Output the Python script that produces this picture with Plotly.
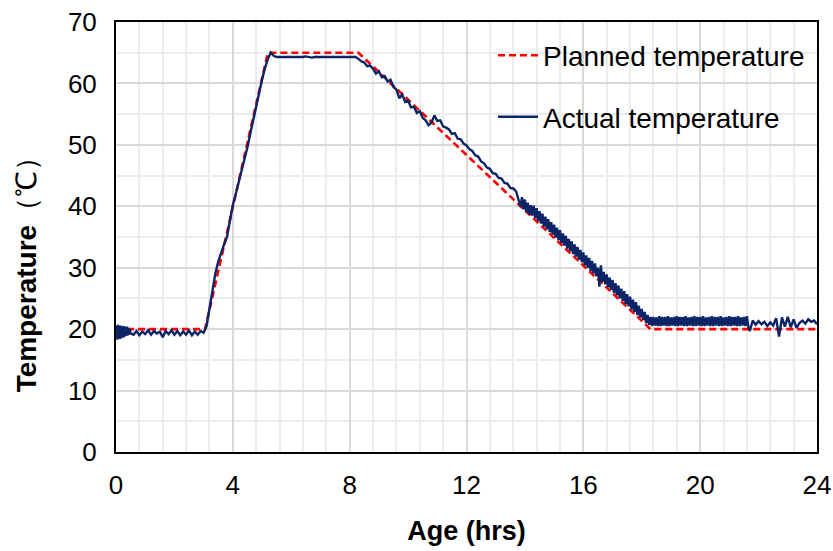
import plotly.graph_objects as go

# Planned curing schedule (breakpoints)
planned_hours = [0, 3.05, 5.2, 8.3, 18.3, 24]
planned_temp = [20, 20, 65, 65, 20, 20]

# Measured temperature, logged in blocks: (start hour, interval in hours, readings)
log_start_0, log_step_0 = 0.0, 0.025
temp_log_0 = [
    18.6, 20.6, 18.3, 20.7, 18.5, 20.5, 18.4, 20.6, 18.7, 20.4,
    18.6, 20.5, 18.8, 20.3, 18.9, 20.4, 19.0, 20.2, 19.1, 20.0, 19.3,
]

log_start_1, log_step_1 = 0.6, 0.1
temp_log_1 = [
    # 0.6 - 3.0 h
    19.1, 19.7, 19.0, 19.6, 19.2, 19.8, 19.1, 19.7, 19.3, 19.6,
    18.7, 19.7, 19.2, 19.8, 19.1, 19.7, 19.0, 19.6, 19.1, 19.8,
    19.0, 19.6, 19.1, 19.7, 19.4,
    # 3.1 - 5.5 h (heating)
    20.5, 23.5, 26.5, 29.0, 31.0, 32.5, 33.8, 35.0, 37.5, 40.2,
    42.0, 43.8, 45.8, 47.6, 49.6, 51.9, 54.2, 56.5, 58.6, 60.6,
    62.5, 64.0, 65.0, 64.5, 64.3,
    # 5.6 - 8.2 h (holding)
    64.3, 64.3, 64.2, 64.3, 64.3, 64.2, 64.3, 64.3, 64.3, 64.4,
    64.3, 64.2, 64.3, 64.3, 64.3, 64.3, 64.2, 64.3, 64.3, 64.3,
    64.3, 64.3, 64.3, 64.3, 64.3, 64.3, 64.3,
    # 8.3 - 13.8 h (cooling)
    64.0, 63.6, 63.4, 62.8, 62.9, 62.4, 61.6,
    62.0, 61.0, 61.2, 60.3, 60.6, 59.4, 59.0, 57.6, 58.2, 57.0,
    57.2, 56.1, 56.2, 55.2, 55.5, 54.4, 54.0, 53.2, 53.6, 54.8,
    53.9, 54.0, 53.0, 52.8, 52.5, 51.8, 51.9, 51.0, 50.9, 50.2,
    49.9, 49.3, 49.0, 48.3, 48.1, 47.3, 47.0, 46.3, 46.1, 45.4,
    45.3, 44.6, 44.5, 43.8, 43.7, 43.0, 42.9, 42.4, 40.4,
]

log_start_2, log_step_2 = 13.85, 0.05
temp_log_2 = [
    39.9, 41.5, 39.5, 41.1, 39.0, 40.6, 38.6, 40.2, 38.5, 40.1,
    38.1, 39.7, 37.6, 39.2, 37.2, 38.8, 36.7, 38.3, 36.3, 37.9,
    35.8, 37.4, 35.4, 37.0, 34.9, 36.5, 34.5, 36.1, 34.0, 35.6,
    33.6, 35.2, 33.1, 34.7, 32.7, 34.3, 32.2, 33.8, 31.8, 33.4,
    31.3, 32.9, 30.9, 32.5, 30.4, 32.0, 30.0, 31.6, 29.5, 31.1,
    29.1, 30.7, 28.6, 30.0, 26.9, 30.4, 27.7, 29.3, 27.3, 28.9,
    26.8, 28.4, 26.4, 28.0, 25.9, 27.5, 25.5, 27.1, 25.0, 26.6,
    24.6, 26.2, 24.1, 25.7, 23.7, 25.3, 23.2, 24.8, 22.8, 24.4,
    22.3, 23.8, 21.9, 23.3, 21.5, 22.8, 21.0, 22.3, 20.7,
]

log_start_3, log_step_3 = 18.3, 0.05
temp_log_3 = [
    22.0, 20.5, 22.0, 20.6, 21.9, 20.5, 22.1, 20.5, 22.0, 20.6,
    22.0, 20.5, 22.1, 20.5, 21.9, 20.6, 22.0, 20.5, 22.1, 20.5,
    22.0, 20.6, 22.0, 20.5, 22.1, 20.5, 21.9, 20.6, 22.0, 20.5,
    22.1, 20.5, 22.0, 20.6, 22.0, 20.5, 22.1, 20.5, 21.9, 20.6,
    22.0, 20.5, 22.1, 20.5, 22.0, 20.6, 22.0, 20.5, 22.1, 20.5,
    21.9, 20.6, 22.0, 20.5, 22.1, 20.5, 22.0, 20.6, 22.0, 20.5,
    22.1, 20.5, 21.9, 20.6, 22.0, 20.5, 22.1, 20.4, 19.7,
]

log_start_4, log_step_4 = 21.8, 0.1
temp_log_4 = [
    21.4, 20.7, 21.3, 20.8, 21.2, 20.5, 21.1, 20.6, 21.8, 18.8,
    21.9, 20.4, 22.0, 20.3, 21.6, 20.2, 21.0, 21.4, 20.9, 21.6,
    21.2, 21.4, 20.8,
]

log_blocks = [
    (log_start_0, log_step_0, temp_log_0),
    (log_start_1, log_step_1, temp_log_1),
    (log_start_2, log_step_2, temp_log_2),
    (log_start_3, log_step_3, temp_log_3),
    (log_start_4, log_step_4, temp_log_4),
]
actual_hours, actual_temp = [], []
for start, step, readings in log_blocks:
    actual_hours += [round(start + i * step, 3) for i in range(len(readings))]
    actual_temp += readings

x_ticks = [0, 4, 8, 12, 16, 20, 24]
y_ticks = [0, 10, 20, 30, 40, 50, 60, 70]

FONT = "Liberation Sans, Arial, sans-serif"

fig = go.Figure()
fig.add_trace(go.Scatter(
    x=planned_hours, y=planned_temp, mode="lines",
    name="Planned temperature", legendgroup="p",
    line=dict(color="#ff0000", width=2.6, dash="7px,4px"),
))
fig.add_trace(go.Scatter(
    x=actual_hours, y=actual_temp, mode="lines",
    name="Actual temperature", legendgroup="a",
    line=dict(color="#0b2465", width=2.4),
))

axis_common = dict(
    showline=True, linecolor="black", linewidth=2, mirror=True,
    showgrid=True, gridcolor="#d9d9d9", gridwidth=1.5,
    zeroline=False, ticks="", automargin=False,
    tickfont=dict(family=FONT, size=26, color="black"),
)

fig.update_xaxes(
    range=[0, 24], tickvals=x_ticks, ticklabelstandoff=9,
    minor=dict(dtick=0.8, showgrid=True, gridcolor="#ececec", gridwidth=1.5),
    title=dict(text="<b>Age (hrs)</b>", font=dict(family=FONT, size=27, color="black"), standoff=22),
    **axis_common,
)
fig.update_yaxes(
    range=[0, 70], tickvals=y_ticks, ticklabelstandoff=12,
    minor=dict(dtick=5, showgrid=True, gridcolor="#ececec", gridwidth=1.5),
    **axis_common,
)

# y-axis title, placed as a rotated annotation
fig.add_annotation(
    text="<b>Temperature</b>（℃）", textangle=-90,
    xref="paper", yref="paper", x=-0.128, y=0.43,
    xanchor="center", yanchor="middle", showarrow=False,
    font=dict(family=FONT, size=28, color="black"),
)

# white panel behind the legend (hides the grid there)
fig.add_shape(
    type="rect", xref="paper", yref="paper",
    x0=0.519, x1=0.997, y0=0.714, y1=0.997,
    fillcolor="white", line_width=0, layer="between",
)

fig.update_layout(
    width=833, height=551,
    margin=dict(l=116, r=16, t=22, b=99),
    plot_bgcolor="white", paper_bgcolor="white",
    legend=dict(
        x=0.99, xanchor="right", y=0.98, yanchor="top",
        bgcolor="rgba(255,255,255,0)", borderwidth=0,
        font=dict(family=FONT, size=28, color="black"),
        traceorder="grouped", tracegroupgap=22,
        itemwidth=40,
    ),
)

fig.write_html("out.html")
